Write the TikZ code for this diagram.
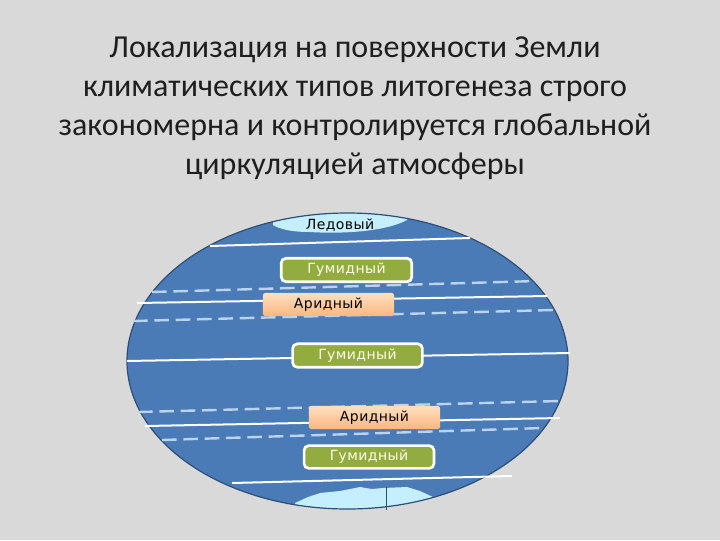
\documentclass[tikz,border=0pt]{standalone}
\usepackage{fontspec}
\setmainfont{Carlito}
\newfontfamily\labelfont[LetterSpace=3]{DejaVu Sans}
\usetikzlibrary{shadings}
\definecolor{bgc}{HTML}{D9D9D9}
\definecolor{sea}{HTML}{4A7BB7}
\definecolor{rim}{HTML}{2C4F78}
\definecolor{ice}{HTML}{C6EFFD}
\definecolor{humid}{HTML}{93AC3F}
\definecolor{aridA}{HTML}{FDD2A6}
\definecolor{aridB}{HTML}{FBB67E}
\definecolor{dashcol}{HTML}{BBD4EE}
\tikzset{
  headingtext/.style={font=\fontsize{24pt}{29.3pt}\selectfont,text=black!88,align=center},
  humidbox/.style={draw=white,line width=2pt,fill=humid,rounded corners=3.5pt,text=white!92!yellow,inner sep=0pt,font=\labelfont\fontsize{10.5pt}{12pt}\selectfont},
  aridbox/.style={draw=none,top color=aridA!70!white,bottom color=aridB,rounded corners=2pt,text=black,inner sep=0pt,font=\labelfont\fontsize{10.5pt}{12pt}\selectfont},
  zoneline/.style={white,line width=1.5pt},
  dashline/.style={dashcol,line width=1.8pt,dash pattern=on 11pt off 5pt},
}
\begin{document}
\begin{tikzpicture}[x=0.75pt,y=-0.75pt]
\useasboundingbox (0,0) rectangle (720,540);
\fill[bgc] (0,0) rectangle (720,540);
\node[headingtext] (heading) at (355,108.5) {Локализация на поверхности Земли\\климатических типов литогенеза строго\\закономерна и контролируется глобальной\\циркуляцией атмосферы};
% globe
\fill[sea] (347.5,361) ellipse [x radius=220.5,y radius=148];
\begin{scope}
  \clip (347.5,361) ellipse [x radius=220.5,y radius=148];
  \fill[ice] (273,225) .. controls (280,229) and (290,232) .. (310,232)
     .. controls (340,234) and (385,232) .. (407,220) -- (407,205) -- (273,205) -- cycle;
  \fill[ice] (295,503) -- (308,497) -- (320,493) -- (340,491) -- (360,487) -- (372,489) -- (383,488) -- (407,487) -- (420,491) -- (433,497) -- (433,520) -- (295,520) -- cycle;
\end{scope}
\draw[rim,line width=0.9pt] (347.5,361) ellipse [x radius=220.5,y radius=148];
\draw[rim,line width=0.5pt] (386,487) -- (386,510);
% zone lines
\draw[zoneline] (210,246) -- (470,238);
\draw[dashline] (152,292) -- (537,281);
\draw[zoneline] (137,303) -- (547,296);
\draw[dashline] (133,321) -- (553,310);
\draw[zoneline] (127,361) -- (570,353);
\draw[dashline] (138,412) -- (560,401);
\draw[zoneline] (145,426) -- (560,418);
\draw[dashline] (162,440) -- (543,428);
\draw[zoneline] (232,483) -- (512,476);
% labels
\node[text=black,font=\labelfont\fontsize{10.5pt}{12pt}\selectfont] (ledovy) at (340,225.5) {Ледовый};
\node[humidbox,minimum width=97.5bp,minimum height=17.5bp] (g1) at (346.5,270) {Гумидный};
\node[aridbox,minimum width=98bp,minimum height=17.5bp] (a1) at (328.5,304.5) {Аридный};
\node[humidbox,minimum width=97bp,minimum height=17.5bp] (g2) at (357.5,355.5) {Гумидный};
\node[aridbox,minimum width=98bp,minimum height=17.5bp] (a2) at (374.5,417.5) {Аридный};
\node[humidbox,minimum width=97bp,minimum height=17bp] (g3) at (369,457) {Гумидный};
\end{tikzpicture}
\end{document}
